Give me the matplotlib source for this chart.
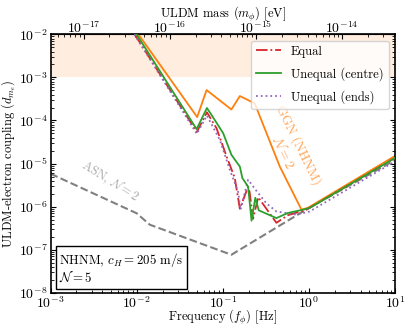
import numpy as np
import matplotlib
matplotlib.use("Agg")
import matplotlib.pyplot as plt

plt.rcParams.update({
    "font.family": "serif",
    "font.serif": ["cmr10"],
    "mathtext.fontset": "cm",
    "axes.formatter.use_mathtext": True,
    "font.size": 9,
    "xtick.labelsize": 10,
    "ytick.labelsize": 10,
    "xtick.direction": "in",
    "ytick.direction": "in",
})

H_EV_S = 4.1357e-15  # Planck constant in eV s

# GGN (NHNM), N = 2
f_ggn = [1.05e-2, 0.0505, 0.0649, 0.126, 0.158, 0.235, 0.46, 0.82, 0.97, 10.0]
d_ggn = [1.0e-2, 1.2e-4, 5.1e-4, 1.8e-4, 3.7e-4, 2.5e-4, 8.5e-6, 8.5e-7, 9.3e-7, 1.5e-5]

# Equal
f_eq = [9.5e-3, 0.050, 0.0655, 0.0847, 0.111, 0.138, 0.158, 0.197, 0.205, 0.225,
        0.258, 0.42, 0.57, 0.94, 10.0]
d_eq = [1.0e-2, 5.4e-5, 1.55e-4, 6.6e-5, 1.45e-5, 4.6e-6, 8.9e-7, 2.9e-6, 2.2e-6, 5.2e-7,
        1.65e-6, 4.2e-7, 6.3e-7, 8.5e-7, 1.35e-5]

# Unequal (centre)
f_uc = [1.0e-2, 0.0497, 0.0655, 0.074, 0.101, 0.126, 0.158, 0.169, 0.197, 0.216,
        0.239, 0.262, 0.42, 0.57, 0.86, 1.02, 10.0]
d_uc = [1.0e-2, 6.3e-5, 1.95e-4, 1.35e-4, 5.1e-5, 1.6e-5, 8.5e-6, 4.6e-6, 2.9e-6, 4.7e-7,
        1.6e-6, 8.2e-7, 5.4e-7, 7.1e-7, 8.5e-7, 9.3e-7, 1.35e-5]

# Unequal (ends)
f_ue = [9.4e-3, 0.050, 0.0655, 0.0925, 0.121, 0.151, 0.161, 0.197, 0.247, 0.32,
        0.42, 0.72, 1.02, 10.0]
d_ue = [1.0e-2, 4.9e-5, 1.3e-4, 3.55e-5, 7.1e-6, 2.2e-6, 8.5e-7, 4.2e-6, 2.3e-6, 1.2e-6,
        7.7e-7, 6.5e-7, 7.7e-7, 1.12e-5]

# ASN, N = 2
f_asn = [1e-3, 1.0e-2, 0.0142, 0.126, 1.0, 10.0]
d_asn = [5.8e-6, 7.0e-7, 3.8e-7, 7.6e-8, 9.3e-7, 1.2e-5]

# excluded region
excl_lo, excl_hi = 1e-3, 1e-2

fig = plt.figure(figsize=(4.11, 3.32), dpi=100)
ax = fig.add_axes([0.1229, 0.1184, 0.8381, 0.7780])

ax.axhspan(excl_lo, excl_hi, color="#ff7f0e", alpha=0.13, lw=0, zorder=0)
ax.plot(f_asn, d_asn, color="gray", ls="--", lw=1.5, zorder=1)
ax.plot(f_ggn, d_ggn, color="#ff7f0e", lw=1.3, zorder=2)
ax.plot(f_eq, d_eq, color="#d62728", ls="-.", lw=1.3, label="Equal", zorder=3)
ax.plot(f_uc, d_uc, color="#2ca02c", lw=1.3, label="Unequal (centre)", zorder=4)
ax.plot(f_ue, d_ue, color="#9467bd", ls=":", lw=1.3, label="Unequal (ends)", zorder=3)

ax.set_xscale("log")
ax.set_yscale("log")
ax.set_xlim(1e-3, 10)
ax.set_ylim(1e-8, 1e-2)
ax.set_xlabel(r"Frequency ($f_\phi$) [Hz]", labelpad=-2)
ax.set_ylabel(r"ULDM-electron coupling ($d_{m_e}$)", labelpad=1)
ax.tick_params(which="both", right=True)
ax.tick_params(axis="x", pad=2)
ax.tick_params(axis="y", pad=2)
for s in ax.spines.values():
    s.set_linewidth(1.2)

top = ax.secondary_xaxis("top", functions=(lambda f: f * H_EV_S, lambda m: m / H_EV_S))
top.set_xlabel(r"ULDM mass ($m_\phi$) [eV]", labelpad=1)
top.tick_params(which="both", direction="in", pad=-1)

ax.legend(loc="upper right", fontsize=9, framealpha=0.8, borderaxespad=0.5,
          labelspacing=0.75)

ax.text(0.62, 2.2e-5, "GGN (NHNM)\n" + r"$\mathcal{N}=2$", color="#ff7f0e", alpha=0.7,
        rotation=-64, ha="center", va="center", fontsize=9.5, multialignment="center",
        linespacing=1.1)
ax.text(4.9e-3, 3.8e-6, r"ASN, $\mathcal{N}=2$", color="#aaaaaa",
        rotation=-32, ha="center", va="center", fontsize=9)

ax.text(0.026, 0.03, r"NHNM, $c_H = 205\ \mathrm{m/s}$" + "\n" + r"$\mathcal{N}=5$",
        transform=ax.transAxes, fontsize=9.3, ha="left", va="bottom", linespacing=1.0,
        bbox=dict(boxstyle="square,pad=0.3", fc="white", ec="black", lw=1.0))

fig.savefig("out.png", dpi=100)
